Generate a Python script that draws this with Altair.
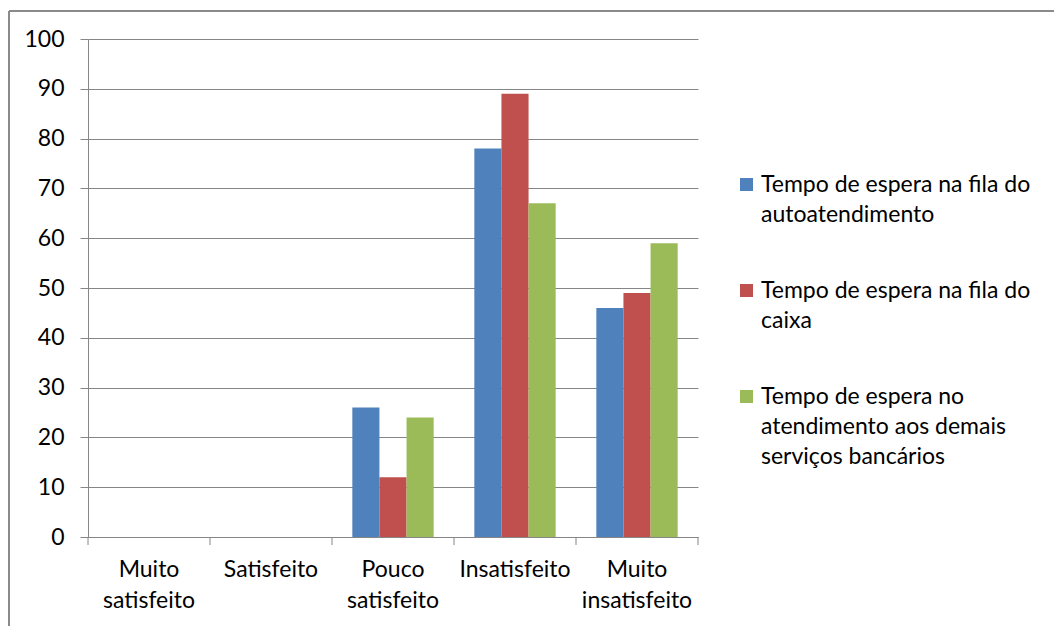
import json
import altair as alt
import pandas as pd

categorias = ["Muito satisfeito", "Satisfeito", "Pouco satisfeito", "Insatisfeito", "Muito insatisfeito"]
series = [
    "Tempo de espera na fila do autoatendimento",
    "Tempo de espera na fila do caixa",
    "Tempo de espera no atendimento aos demais serviços bancários",
]
autoatendimento = [0, 0, 26, 78, 46]
caixa = [0, 0, 12, 89, 49]
demais_servicos = [0, 0, 24, 67, 59]
cores = ["#4F81BD", "#C0504D", "#9BBB59"]
legenda_linhas = {
    series[0]: ["Tempo de espera na fila do", "autoatendimento"],
    series[1]: ["Tempo de espera na fila do", "caixa"],
    series[2]: ["Tempo de espera no", "atendimento aos demais", "serviços bancários"],
}

rows = []
for s, vals in zip(series, [autoatendimento, caixa, demais_servicos]):
    for c, v in zip(categorias, vals):
        rows.append({"categoria": c, "serie": s, "valor": v})
df = pd.DataFrame(rows)
df_cat = pd.DataFrame({"categoria": categorias})
one = pd.DataFrame({"a": [0]})

FONT = "Lato"
FS = 23
W, H = 610, 498
GRAY = "#868686"

xscale = alt.Scale(domain=categorias, paddingInner=0, paddingOuter=0)

bars = alt.Chart(df).mark_bar().encode(
    x=alt.X(
        "categoria:N",
        sort=categorias,
        scale=xscale,
        title=None,
        axis=alt.Axis(
            labelAngle=0,
            labelExpr="split(datum.label, ' ')",
            ticks=False,
            labelPadding=21,
            labelLineHeight=31,
            labelFontSize=FS,
            labelColor="#000000",
            labelFont=FONT,
            domainColor=GRAY,
            grid=False,
            labelLimit=200,
        ),
    ),
    xOffset=alt.XOffset("serie:N", sort=series, scale=alt.Scale(domain=series, paddingInner=0, paddingOuter=0.75)),
    y=alt.Y(
        "valor:Q",
        scale=alt.Scale(domain=[0, 100], nice=False),
        title=None,
        axis=alt.Axis(
            values=list(range(0, 101, 10)),
            tickSize=8,
            tickColor=GRAY,
            domainColor=GRAY,
            gridColor=GRAY,
            labelPadding=16,
            labelFontSize=FS,
            labelColor="#000000",
            labelFont=FONT,
        ),
    ),
    color=alt.Color(
        "serie:N",
        sort=series,
        scale=alt.Scale(domain=series, range=cores),
        legend=alt.Legend(
            title=None,
            orient="none",
            legendX=647,
            legendY=134,
            symbolType="square",
            symbolSize=169,
            symbolStrokeWidth=0,
            labelFontSize=FS,
            labelFont=FONT,
            labelColor="#000000",
            labelLimit=400,
            labelOffset=3,
            rowPadding=52,
            labelExpr=json.dumps(legenda_linhas, ensure_ascii=False) + "[datum.label]",
        ),
    ),
)

xticks = alt.Chart(df_cat).mark_rule(color=GRAY, strokeWidth=1).encode(
    x=alt.X("categoria:N", sort=categorias, scale=xscale, bandPosition=0),
    y=alt.value(H),
    y2=alt.value(H + 8),
)
last_tick = alt.Chart(one).mark_rule(color=GRAY, strokeWidth=1).encode(
    x=alt.value(W), y=alt.value(H), y2=alt.value(H + 8)
)
frame_left = alt.Chart(one).mark_rule(color="#8a8a8a", strokeWidth=2).encode(
    x=alt.value(-79), y=alt.value(-28), y2=alt.value(H + 120)
)
frame_top = alt.Chart(one).mark_rule(color="#8a8a8a", strokeWidth=2).encode(
    x=alt.value(-79), x2=alt.value(1054), y=alt.value(-28)
)

chart = (
    alt.layer(bars, xticks, last_tick, frame_left, frame_top)
    .properties(
        width=W,
        height=H,
        autosize=alt.AutoSizeParams(type="none"),
        padding={"left": 88, "top": 39, "right": 1054 - 88 - W, "bottom": 626 - 39 - H},
        background="white",
    )
    .configure(style={"guide-label": {"lineHeight": 30}})
    .configure_view(strokeWidth=0)
)

chart.save("out.html", embed_options={"renderer": "svg", "actions": False})
